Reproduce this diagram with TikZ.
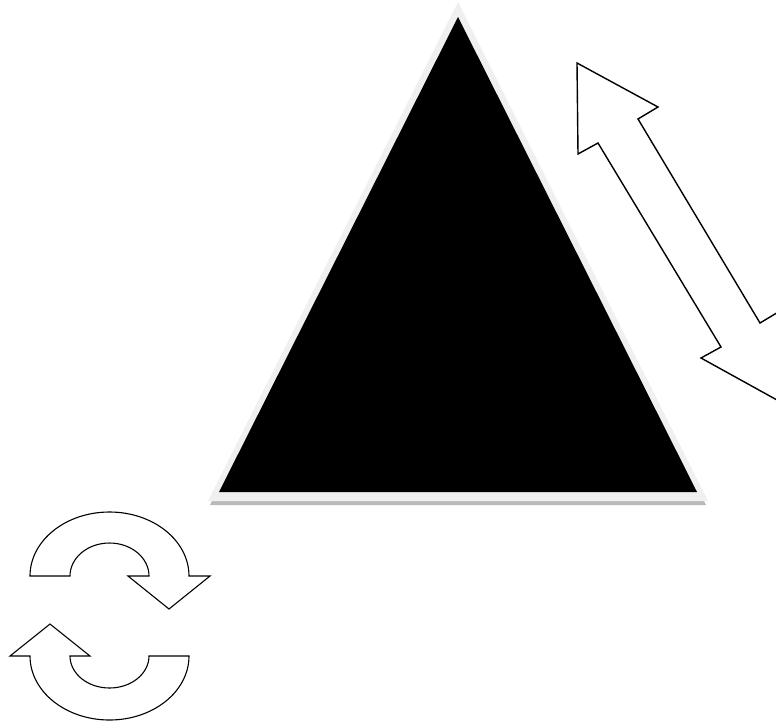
\documentclass[tikz,border=0pt]{standalone}
\begin{document}
\begin{tikzpicture}[x=1pt,y=-1pt,
  outlinearrow/.style={draw=black,fill=white,line width=1.4pt,line join=miter},
  cyclearrow/.style={draw=black,fill=white,line width=1.1pt,line join=miter},
  rim/.style={fill=black!6},
  rimshadow/.style={fill=black!27},
  solid black/.style={fill=black}]
\useasboundingbox (0,0) rectangle (776,723);
\clip (0,0) rectangle (776,723);
% triangle with light rim and shadow
\coordinate (ta) at (458,2);
\coordinate (tr) at (708,501);
\coordinate (tl) at (208,501);
\fill[rimshadow] ([yshift=-4pt]ta) -- ([yshift=-4pt,xshift=-2pt]tr) -- ([yshift=-4pt,xshift=2pt]tl) -- cycle;
\fill[rim] (ta) -- (tr) -- (tl) -- cycle;
\fill[solid black] (458,17) -- (697,492) -- (219,492) -- cycle;
% double arrow
\coordinate (d1) at (577,63);
\coordinate (d2) at (658,107);
\coordinate (d3) at (638,119);
\coordinate (d4) at (760,323);
\coordinate (d5) at (780,311);
\coordinate (d6) at (781.5,402.5);
\coordinate (d7) at (701,358);
\coordinate (d8) at (721,347);
\coordinate (d9) at (598,143);
\coordinate (d10) at (578,154);
\draw[outlinearrow] (d1) -- (d2) -- (d3) -- (d4) -- (d5) -- (d6) -- (d7) -- (d8) -- (d9) -- (d10) -- cycle;
% circular arrows
\coordinate (ca) at (30,576);
\coordinate (cb) at (149,576);
\draw[cyclearrow] (ca) arc[start angle=180,end angle=0,x radius=79.5pt,y radius=64pt]
  -- (210,576) -- (169,609) -- (128,576) -- (cb)
  arc[start angle=0,end angle=180,x radius=39.5pt,y radius=33pt] -- cycle;
\coordinate (cc) at (189,656);
\coordinate (cd) at (70,656);
\draw[cyclearrow] (cc) arc[start angle=0,end angle=-180,x radius=79.5pt,y radius=64pt]
  -- (10,656) -- (50,624) -- (90,656) -- (cd)
  arc[start angle=180,end angle=360,x radius=39.5pt,y radius=32pt] -- cycle;
\end{tikzpicture}
\end{document}
